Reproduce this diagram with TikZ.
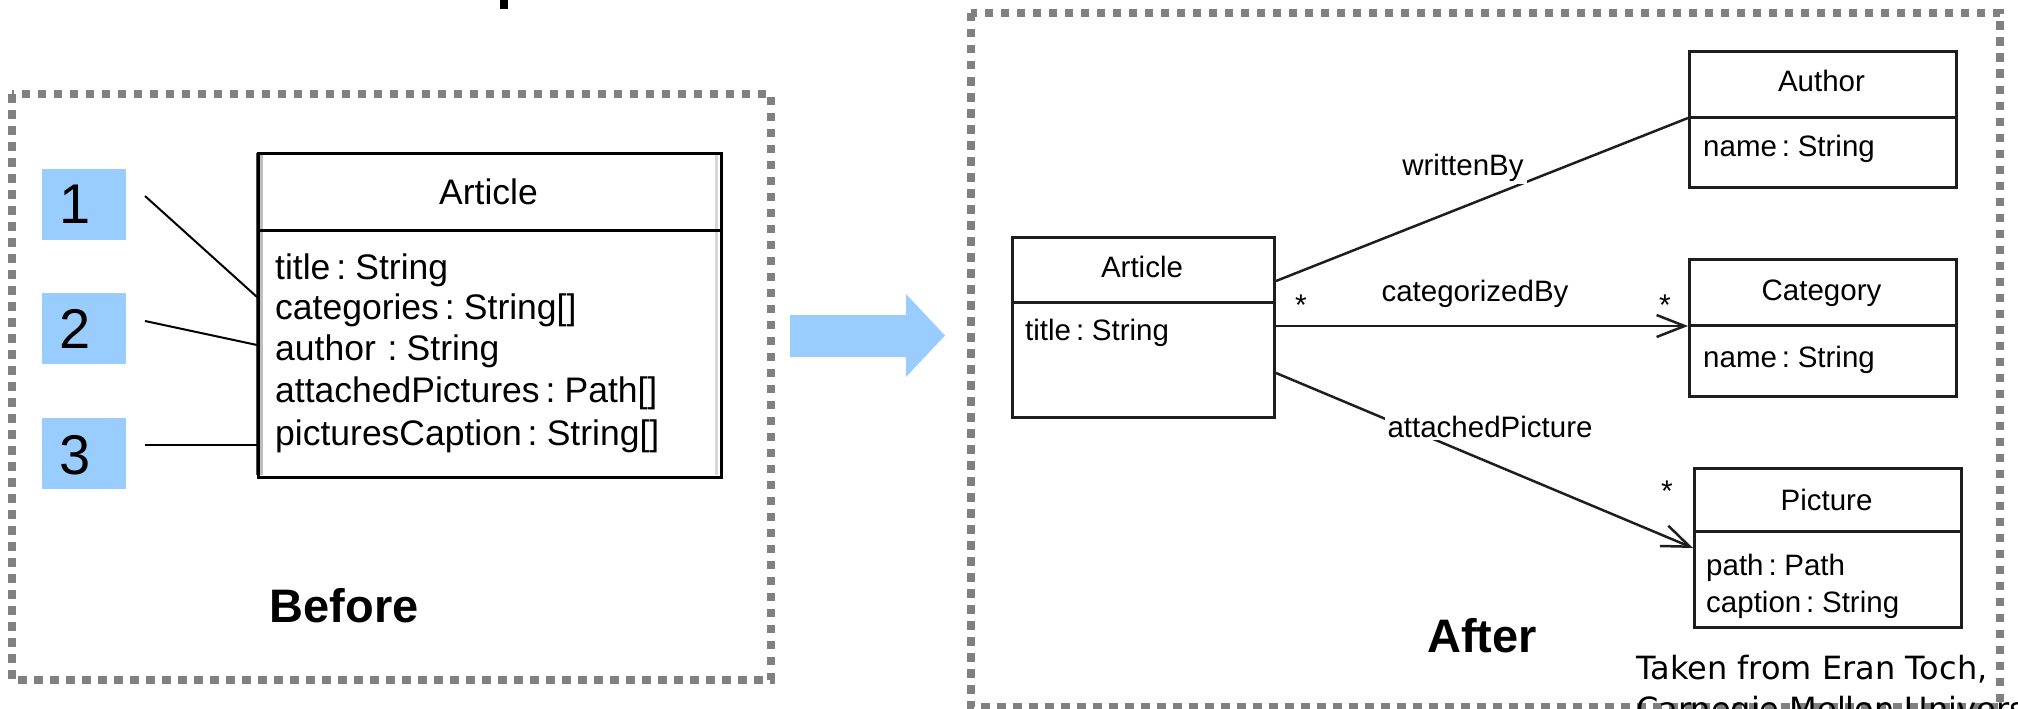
\documentclass[tikz,border=0pt]{standalone}
\usepackage{fontspec}
\setmainfont[WordSpace=0.6]{Liberation Sans}
\newfontfamily\creditfont{DejaVu Sans}
\usetikzlibrary{arrows.meta}
\definecolor{framegray}{HTML}{808080}
\definecolor{noteblue}{HTML}{99CCFF}
\definecolor{umlline}{HTML}{1E1E1E}
\begin{document}
\begin{tikzpicture}[x=1pt,y=-1pt,
  frame/.style={draw=framegray,line width=8.5pt,dash pattern=on 8.5pt off 7.5pt},
  oldcls/.style={draw=black,line width=3pt,anchor=north west,inner sep=0pt},
  newcls/.style={draw=umlline,line width=3pt,anchor=north west,inner sep=0pt},
  numbox/.style={fill=noteblue,anchor=north west,inner sep=0pt,minimum width=84pt,minimum height=71pt},
  numtxt/.style={font=\fontsize{56}{60}\selectfont,anchor=base,inner sep=0pt},
  oldtxt/.style={font=\fontsize{35.5}{40}\selectfont,anchor=base west,inner sep=0pt},
  oldhead/.style={font=\fontsize{35.5}{40}\selectfont,anchor=base,inner sep=0pt},
  newtxt/.style={font=\fontsize{29.5}{34}\selectfont,anchor=base west,inner sep=0pt},
  newhead/.style={font=\fontsize{29.5}{34}\selectfont,anchor=base,inner sep=0pt},
  assoclbl/.style={font=\fontsize{29.5}{34}\selectfont,anchor=base,fill=white,inner sep=3pt},
  mult/.style={font=\fontsize{30}{34}\selectfont,anchor=base,inner sep=0pt},
  caption/.style={font=\bfseries\fontsize{47}{52}\selectfont,anchor=base,inner sep=0pt},
  pointer/.style={draw=black,line width=2pt},
  assoc/.style={draw=umlline,line width=2.5pt},
  navig/.style={assoc,-{Straight Barb[length=28pt,width=22pt,line width=2.5pt]}},
]
\useasboundingbox (0,0) rectangle (2018,709);

% descender of the heading above the panels
\fill (500,0) rectangle (508,9);

% dotted panels
\draw[frame] (12,94) rectangle (771,680);
\draw[frame] (971,13) rectangle (2000,707);

% ---------------- Before: a single Article class ----------------
\fill[black!70] (256,153) rectangle (259,475);
\fill[black!25] (259,153) rectangle (263,475);
\fill[black!15] (715,153) rectangle (718,475);
\node[oldcls,minimum width=463pt,minimum height=324pt] (oldart) at (257,152) {};
\draw[line width=3pt] (oldart.west |- 0,230) -- (oldart.east |- 0,230);
\node[oldhead] (oldname) at (488.5,204) {Article};
\node[oldtxt] (f1) at (275,279) {title : String};
\node[oldtxt] (f2) at (275,319) {categories : String[]};
\node[oldtxt] (f3) at (275,360) {author\, : String};
\node[oldtxt] (f4) at (275,402) {attachedPictures : Path[]};
\node[oldtxt] (f5) at (275,445) {picturesCaption : String[]};

% numbered problem markers
\node[numbox] (n1) at (42,169) {};
\node[numbox] (n2) at (42,293) {};
\node[numbox] (n3) at (42,418) {};
\node[numtxt] (d1) at (75,223) {1};
\node[numtxt] (d2) at (75,348.5) {2};
\node[numtxt] (d3) at (75,474) {3};

\coordinate (s1) at (145,196);
\coordinate (s2) at (145,321);
\coordinate (s3) at (145,445);
\draw[pointer] (s1) -- (oldart.west |- 0,297);
\draw[pointer] (s2) -- (oldart.west |- 0,345);
\draw[pointer] (s3) -- (oldart.west |- 0,445);

\node[caption] (before) at (344,622) {Before};

% refactoring arrow
\fill[noteblue] (790,315) -- (906,315) -- (906,294) -- (945,335.5)
  -- (906,377) -- (906,357) -- (790,357) -- cycle;

% ---------------- After: four associated classes ----------------
\node[newcls,minimum width=262pt,minimum height=180pt] (art) at (1011,236) {};
\draw[umlline,line width=3pt] (art.west |- 0,302) -- (art.east |- 0,302);
\node[newhead] (artname) at (1142,277.5) {Article};
\node[newtxt] (arttitle) at (1025,340) {title : String};

\node[newcls,minimum width=267pt,minimum height=136pt] (aut) at (1688,50) {};
\draw[umlline,line width=3pt] (aut.west |- 0,117) -- (aut.east |- 0,117);
\node[newhead] (autname) at (1821.5,92) {Author};
\node[newtxt] (autattr) at (1703,156) {name : String};

\node[newcls,minimum width=267pt,minimum height=137pt] (cat) at (1688,258) {};
\draw[umlline,line width=3pt] (cat.west |- 0,325) -- (cat.east |- 0,325);
\node[newhead] (catname) at (1821.5,300) {Category};
\node[newtxt] (catattr) at (1703,367) {name : String};

\node[newcls,minimum width=267pt,minimum height=159pt] (pic) at (1693,467) {};
\draw[umlline,line width=3pt] (pic.west |- 0,531) -- (pic.east |- 0,531);
\node[newhead] (picname) at (1826.5,510) {Picture};
\node[newtxt] (picpath) at (1706,575) {path : Path};
\node[newtxt] (piccap) at (1706,612) {caption : String};

% associations
\draw[assoc] (art.east |- 0,281) -- (aut.west |- 0,118);
\draw[navig] (art.east |- 0,326) -- (cat.west |- 0,326);
\draw[navig] (art.east |- 0,373) -- (pic.west |- 0,548);

\node[assoclbl] (lwb) at (1463,175) {writtenBy};
\node[assoclbl] (lcb) at (1475,301) {categorizedBy};
\node[assoclbl] (lap) at (1490,437) {attachedPicture};

\node[mult] (m1) at (1301,315) {*};
\node[mult] (m2) at (1665,315) {*};
\node[mult] (m3) at (1667,501) {*};

\node[caption] (after) at (1482,652) {After};

% source credit
\node[font=\creditfont\fontsize{32}{40}\selectfont,anchor=base west,inner sep=0pt] (cr1) at (1636,679) {Taken from Eran Toch,};
\node[font=\creditfont\fontsize{32}{40}\selectfont,anchor=base west,inner sep=0pt] (cr2) at (1636,720) {Carnegie Mellon University};
\end{tikzpicture}
\end{document}
